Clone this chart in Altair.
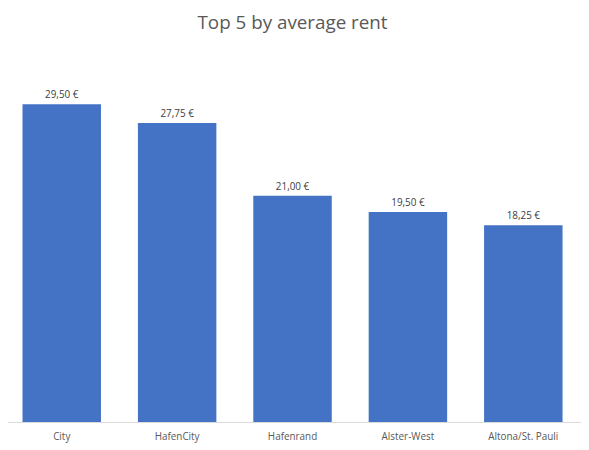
import altair as alt
import pandas as pd

districts = ["City", "HafenCity", "Hafenrand", "Alster-West", "Altona/St. Pauli"]
avg_rent = [29.50, 27.75, 21.00, 19.50, 18.25]

df = pd.DataFrame({"district": districts, "rent": avg_rent})
df["label"] = df["rent"].map(lambda v: f"{v:.2f}".replace(".", ",") + " €")

x = alt.X(
    "district:N",
    sort=districts,
    title=None,
    scale=alt.Scale(paddingInner=0.32, paddingOuter=0.16),
    axis=alt.Axis(
        labelAngle=0,
        ticks=False,
        domainColor="#d9d9d9",
        labelColor="#595959",
        labelFont="Open Sans",
        labelFontSize=10,
        labelPadding=10,
    ),
)
y = alt.Y("rent:Q", title=None, scale=alt.Scale(domain=[0, 35]), axis=None)

bars = alt.Chart(df).mark_bar(color="#4472C4").encode(x=x, y=y)
labels = (
    alt.Chart(df)
    .mark_text(dy=-9, fontSize=10, font="Open Sans", color="#404040")
    .encode(x=x, y=y, text="label:N")
)

chart = (
    alt.layer(bars, labels)
    .properties(
        width=583,
        height=381,
        padding={"left": -4, "top": 4, "right": 0, "bottom": 0},
        title=alt.TitleParams(
            "Top 5 by average rent",
            fontSize=19,
            font="Open Sans",
            fontWeight="normal",
            color="#595959",
            anchor="middle",
            offset=12,
        ),
    )
    .configure_view(stroke=None)
)

chart.save("out.html", embed_options={"renderer": "svg", "actions": False})
